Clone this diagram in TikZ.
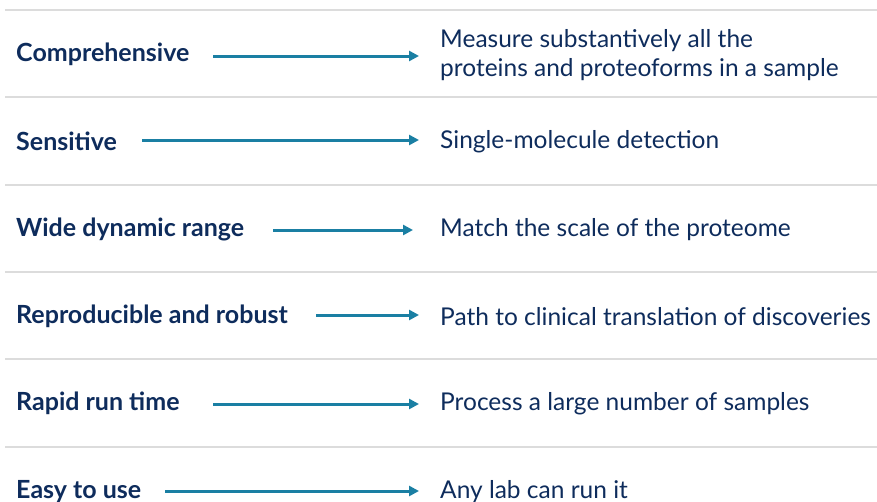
\documentclass[tikz,border=0pt]{standalone}
\usepackage{fontspec}
\setmainfont{Lato}
\usetikzlibrary{arrows.meta}
\definecolor{navy}{HTML}{0E2C5C}
\definecolor{teal}{HTML}{1A7FA3}
\definecolor{rule}{HTML}{DCDCDC}
\begin{document}
\begin{tikzpicture}[x=1pt,y=-1pt,
  lhs/.style={anchor=west,inner sep=0pt,text=navy,font=\fontsize{25}{29}\selectfont\bfseries},
  rhs/.style={anchor=west,inner sep=0pt,text=navy,font=\fontsize{24.5}{29}\selectfont,align=left},
  arr/.style={draw=teal,line width=3pt,-{Triangle[length=10pt,width=10pt]}},
  sep/.style={draw=rule,line width=1.3pt}]
\useasboundingbox (0,0) rectangle (877,501);
\foreach \y in {10,97,185,272,359,447} \draw[sep] (5,\y) -- (877,\y);
\node[lhs] (l1) at (16,54.5) {Comprehensive};
\node[lhs] (l2) at (16,141.5) {Sensitive};
\node[lhs] (l3) at (16,229.5) {Wide dynamic range};
\node[lhs] (l4) at (16,316.5) {Reproducible and robust};
\node[lhs] (l5) at (16,403.5) {Rapid run time};
\node[lhs] (l6) at (16,491.5) {Easy to use};
\node[rhs] (r1) at (440,55.5) {Measure substantively all the\\proteins and proteoforms in a sample};
\node[rhs] (r2) at (440,141.5) {Single-molecule detection};
\node[rhs] (r3) at (440,229.5) {Match the scale of the proteome};
\node[rhs] (r4) at (440,316.5) {Path to clinical translation of discoveries};
\node[rhs] (r5) at (440,403.5) {Process a large number of samples};
\node[rhs] (r6) at (440,491.5) {Any lab can run it};
\coordinate (s1) at (213,56); \coordinate (e1) at (419,56);
\coordinate (s2) at (142,140); \coordinate (e2) at (419,140);
\coordinate (s3) at (273,230); \coordinate (e3) at (413,230);
\coordinate (s4) at (316,315); \coordinate (e4) at (419,315);
\coordinate (s5) at (213,404); \coordinate (e5) at (419,404);
\coordinate (s6) at (165,491); \coordinate (e6) at (419,491);
\foreach \i in {1,...,6} \draw[arr] (s\i) -- (e\i);
\end{tikzpicture}
\end{document}
